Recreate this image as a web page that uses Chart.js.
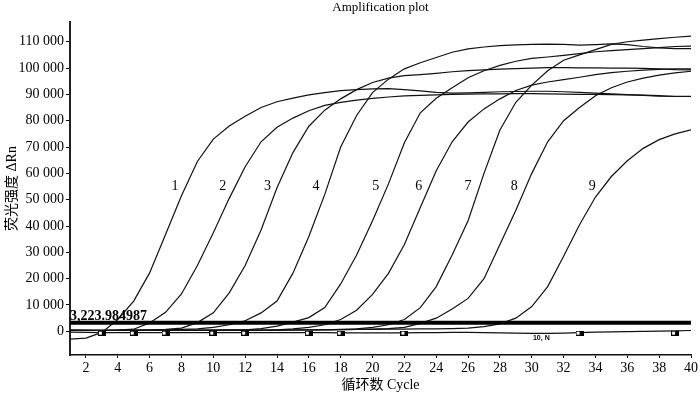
<!DOCTYPE html>
<html>
<head>
<meta charset="utf-8">
<script src="https://cdn.jsdelivr.net/npm/chart.js@4"></script>
<style>
  html, body { margin: 0; padding: 0; background: #fff; }
</style>
</head>
<body>
<canvas id="plot" width="700" height="395"></canvas>
<script>
// cykler (x-axeln)
const cycles = [1, 2, 3, 4, 5, 6, 7, 8, 9, 10, 11, 12, 13, 14, 15, 16, 17, 18, 19, 20,
  21, 22, 23, 24, 25, 26, 27, 28, 29, 30, 31, 32, 33, 34, 35, 36, 37, 38, 39, 40];

// avlästa kurvor, ΔRn per cykel
const curve1 = [-3000, -2600, -400, 4500, 11500, 22200, 36800, 51500, 64500, 73000,
  78000, 81700, 85000, 87200, 88600, 89800, 90700, 91400, 91800, 92100,
  92200, 91800, 91300, 90800, 90500, 90600, 90800, 91000, 91100, 91200,
  91200, 91000, 90800, 90500, 90200, 89900, 89600, 89300, 89200, 89200];
const curve2 = [500, 400, 400, 500, 800, 3200, 7200, 14200, 25000, 37400,
  50500, 62500, 72000, 77500, 81000, 83800, 85800, 87000, 87800, 88500,
  89000, 89400, 89600, 89800, 90000, 90100, 90200, 90200, 90300, 90300,
  90200, 90100, 90000, 90000, 89900, 89800, 89700, 89500, 89300, 89300];
const curve3 = [500, 500, 400, 500, 500, 600, 700, 1200, 3300, 7000,
  14600, 25000, 38500, 54500, 67900, 77900, 84000, 88300, 91800, 94500,
  96200, 97100, 97500, 98000, 98600, 99000, 99300, 99600, 99800, 100000,
  100200, 100200, 100100, 100100, 100000, 100000, 99900, 99700, 99400, 99300];
const curve4 = [400, 400, 400, 500, 500, 500, 600, 700, 900, 1500,
  2500, 4000, 7000, 11500, 22100, 36000, 52000, 70000, 82000, 90700,
  95800, 99700, 102000, 104000, 106000, 107300, 108000, 108500, 108800, 109000,
  109100, 109000, 108700, 108900, 109200, 108900, 108200, 107700, 107400, 107400];
const curve5 = [300, 300, 300, 300, 400, 400, 400, 500, 500, 500,
  600, 600, 1000, 2000, 3500, 5200, 9000, 18000, 29000, 42000,
  56000, 71600, 83000, 88500, 92500, 96300, 99000, 101000, 102600, 103700,
  104200, 104800, 105500, 106200, 106600, 107000, 107400, 107800, 108200, 108300];
const curve6 = [300, 300, 300, 300, 300, 300, 300, 400, 400, 400,
  400, 400, 400, 600, 900, 1500, 2500, 4500, 8000, 14000,
  22000, 33000, 47000, 61000, 72000, 79500, 84500, 88300, 91500, 93500,
  94700, 95600, 96500, 97500, 98300, 98800, 99200, 99500, 99700, 99700];
const curve7 = [300, 300, 300, 300, 300, 300, 300, 300, 300, 400,
  400, 400, 400, 400, 500, 500, 600, 700, 900, 1500,
  2500, 4500, 9000, 17000, 29000, 42000, 60000, 76500, 87000, 93500,
  99000, 103000, 105000, 107000, 109000, 110000, 110600, 111200, 111700, 112100];
const curve8 = [300, 300, 300, 300, 300, 300, 300, 300, 300, 300,
  400, 400, 400, 400, 500, 500, 500, 600, 700, 800,
  1000, 1500, 3000, 5000, 8500, 12500, 20000, 33000, 46000, 60000,
  72000, 80000, 85000, 89500, 92500, 94700, 96200, 97300, 98200, 98800];
const curve9 = [300, 300, 300, 300, 300, 300, 400, 400, 400, 400,
  400, 500, 500, 500, 500, 600, 600, 600, 700, 700,
  800, 800, 900, 900, 1000, 1200, 1800, 2800, 5000, 9400,
  17000, 28500, 40500, 51000, 58800, 64800, 69500, 72800, 75000, 76500];
// negativ kontroll "10, N"
const curveN = [-300, -400, -500, -500, -500, -500, -500, -500, -500, -500,
  -500, -500, -500, -500, -500, -500, -500, -600, -600, -600,
  -600, -600, -500, -500, -400, -400, -500, -600, -700, -800,
  -800, -700, -500, -300, -200, -100, 0, 100, 200, 300];

const curves = [curve1, curve2, curve3, curve4, curve5, curve6, curve7, curve8, curve9, curveN];

// små fyrkantiga markörer längs baslinjen
const markerCycles = [3, 5, 7, 10, 12, 16, 18, 22, 33, 39];
const markerValues = [-700, -700, -700, -700, -700, -700, -700, -700, -700, -700];

// tröskel
const threshold = 3223.984987;
const thresholdText = "3,223.984987";

// etiketter vid kurvorna
const curveLabels = ["1", "2", "3", "4", "5", "6", "7", "8", "9"];
const labelCycles = [7.6, 10.6, 13.4, 16.45, 20.2, 22.9, 26.0, 28.9, 33.8];
const labelValues = [55000, 55000, 55000, 55000, 55000, 55000, 55000, 55000, 55000];
const nLabel = "10, N";
const nLabelCycle = 30.6;
const nLabelValue = -2700;

// tick-värden
const xTicks = [2, 4, 6, 8, 10, 12, 14, 16, 18, 20, 22, 24, 26, 28, 30, 32, 34, 36, 38, 40];
const yTicks = [0, 10000, 20000, 30000, 40000, 50000, 60000, 70000, 80000, 90000, 100000, 110000];

const chartTitle = "Amplification plot";
const xTitle = "循环数 Cycle";
const yTitle = "荧光强度 ΔRn";

const serif = "'Liberation Serif', 'Noto Sans CJK SC', serif";

// markörbild: vit vänsterhalva, svart högerhalva
const markImg = document.createElement("canvas");
markImg.width = 8;
markImg.height = 5;
const mctx = markImg.getContext("2d");
mctx.fillStyle = "#fff";
mctx.fillRect(0, 0, 8, 5);
mctx.fillStyle = "#000";
mctx.fillRect(4, 0, 4, 5);
mctx.strokeStyle = "#000";
mctx.lineWidth = 1;
mctx.strokeRect(0.5, 0.5, 7, 4);

const toPoints = (vals) => cycles.map((c, i) => ({ x: c, y: vals[i] }));

const datasets = [
  {
    label: "threshold",
    data: [{ x: cycles[0], y: threshold }, { x: cycles[cycles.length - 1], y: threshold }],
    borderColor: "#000",
    borderWidth: 4,
    pointRadius: 0,
  },
  {
    label: "markers",
    data: markerCycles.map((c, i) => ({ x: c, y: markerValues[i] })),
    showLine: false,
    pointStyle: markImg,
    pointRadius: 4,
  },
];

curves.forEach((vals, i) => {
  datasets.push({
    label: i < 9 ? curveLabels[i] : nLabel,
    data: toPoints(vals),
    borderColor: "#111",
    borderWidth: 1.2,
    pointRadius: 0,
    tension: 0,
  });
});

const textPlugin = {
  id: "texts",
  afterDatasetsDraw(chart) {
    const { ctx, chartArea, scales } = chart;
    const x = scales.x;
    const y = scales.y;
    ctx.save();
    ctx.fillStyle = "#000";

    ctx.font = "13px " + serif;
    ctx.textAlign = "center";
    ctx.textBaseline = "middle";
    ctx.fillText(chartTitle, (chartArea.left + chartArea.right) / 2, 8);

    ctx.font = "14px " + serif;
    curveLabels.forEach((t, i) => {
      ctx.fillText(t, x.getPixelForValue(labelCycles[i]), y.getPixelForValue(labelValues[i]));
    });

    ctx.font = "bold 7px 'Liberation Sans', sans-serif";
    ctx.fillText(nLabel, x.getPixelForValue(nLabelCycle), y.getPixelForValue(nLabelValue));

    ctx.font = "bold 14px " + serif;
    ctx.textAlign = "left";
    ctx.textBaseline = "alphabetic";
    ctx.fillText(thresholdText, chartArea.left, y.getPixelForValue(threshold) - 2.5);
    ctx.restore();
  },
};

const config = {
  type: "line",
  data: { datasets },
  options: {
    responsive: false,
    animation: false,
    layout: { padding: { top: 22, right: 7, bottom: 0, left: 0 } },
    plugins: {
      legend: { display: false },
      tooltip: { enabled: false },
    },
    scales: {
      x: {
        type: "linear",
        min: 1,
        max: 40,
        afterFit: (s) => { s.height = 40; },
        afterBuildTicks: (s) => { s.ticks = xTicks.map((v) => ({ value: v })); },
        grid: { drawOnChartArea: false, color: "#000", tickLength: 3 },
        border: { color: "#111", width: 1.5 },
        ticks: { color: "#000", padding: 2, maxRotation: 0, font: { family: serif, size: 14 } },
        title: { display: true, text: xTitle, color: "#000", padding: { top: 0, bottom: 1 }, font: { family: serif, size: 14 } },
      },
      y: {
        type: "linear",
        min: -9000,
        max: 117500,
        afterFit: (s) => { s.width = 70; },
        afterBuildTicks: (s) => { s.ticks = yTicks.map((v) => ({ value: v })); },
        grid: { drawOnChartArea: false, color: "#000", tickLength: 4 },
        border: { color: "#222", width: 2 },
        ticks: {
          color: "#000",
          padding: 2,
          font: { family: serif, size: 14 },
          callback: (v) => String(v).replace(/\B(?=(\d{3})+(?!\d))/g, " "),
        },
        title: { display: true, text: yTitle, color: "#000", padding: { top: 4, bottom: 0 }, font: { family: serif, size: 14 } },
      },
    },
  },
  plugins: [textPlugin],
};

const canvas = document.getElementById("plot");
const chart = new Chart(canvas, config);
</script>
</body>
</html>
